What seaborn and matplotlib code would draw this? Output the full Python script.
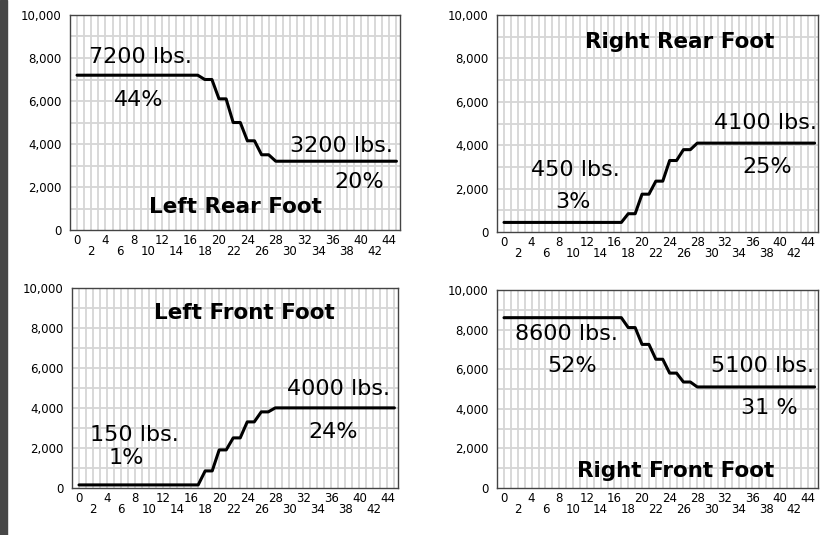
import numpy as np
import pandas as pd
import matplotlib
matplotlib.use("Agg")
import matplotlib.pyplot as plt
import seaborn as sns

# hours at which the load changes (straight segments between them)
hours = [0, 17, 18, 19, 20, 21, 22, 23, 24, 25, 26, 27, 28, 45]

left_rear = [7200, 7200, 7000, 7000, 6100, 6100, 5000, 5000, 4150, 4150, 3500, 3500, 3200, 3200]
right_rear = [450, 450, 850, 850, 1750, 1750, 2350, 2350, 3300, 3300, 3800, 3800, 4100, 4100]
left_front = [150, 150, 850, 850, 1900, 1900, 2500, 2500, 3300, 3300, 3800, 3800, 4000, 4000]
right_front = [8600, 8600, 8100, 8100, 7250, 7250, 6500, 6500, 5800, 5800, 5350, 5350, 5100, 5100]

y_ticks = [0, 2000, 4000, 6000, 8000, 10000]
x_top_row = [0, 4, 8, 12, 16, 20, 24, 28, 32, 36, 40, 44]
x_bottom_row = [2, 6, 10, 14, 18, 22, 26, 30, 34, 38, 42]

# (text, x, y, bold)
notes = {
    "left_rear": [("7200 lbs.", 8.9, 8050, False), ("44%", 8.7, 6050, False),
                  ("3200 lbs.", 37.3, 3930, False), ("20%", 39.7, 2220, False),
                  ("Left Rear Foot", 22.3, 1080, True)],
    "right_rear": [("Right Rear Foot", 25.5, 8770, True), ("4100 lbs.", 37.9, 5010, False),
                   ("25%", 38.1, 3010, False), ("450 lbs.", 10.3, 2860, False),
                   ("3%", 10.0, 1400, False)],
    "left_front": [("Left Front Foot", 23.6, 8720, True), ("4000 lbs.", 37.0, 4940, False),
                   ("24%", 36.3, 2800, False), ("150 lbs.", 7.9, 2630, False),
                   ("1%", 6.8, 1480, False)],
    "right_front": [("8600 lbs.", 9.0, 7780, False), ("52%", 9.9, 6140, False),
                    ("5100 lbs.", 37.5, 6140, False), ("31 %", 38.5, 4040, False),
                    ("Right Front Foot", 24.8, 880, True)],
}

sns.set_style("white")
plt.rcParams["font.family"] = ["DejaVu Sans"]

fig = plt.figure(figsize=(8.23, 5.35), dpi=100)
fig.patches.append(plt.Rectangle((0, 0), 7 / 823, 1, transform=fig.transFigure,
                                 color="#474747", zorder=0))

panels = [
    ("left_rear", left_rear, [0.085, 0.570, 0.401, 0.402]),
    ("right_rear", right_rear, [0.604, 0.566, 0.390, 0.406]),
    ("left_front", left_front, [0.0875, 0.088, 0.396, 0.374]),
    ("right_front", right_front, [0.604, 0.088, 0.390, 0.370]),
]

for key, values, pos in panels:
    ax = fig.add_axes(pos)
    df = pd.DataFrame({"hour": hours, "lbs": values})
    # light grid, one line per hour and per 1000 lbs
    for gx in range(46):
        ax.axvline(gx, color="#d6d6d6", lw=1.3, zorder=0)
    for gy in range(1000, 10000, 1000):
        ax.axhline(gy, color="#d6d6d6", lw=1.3, zorder=0)
    sns.lineplot(data=df, x="hour", y="lbs", ax=ax, color="black", lw=2.2, zorder=3)
    ax.set_xlim(-1, 45.5)
    ax.set_ylim(0, 10000)
    ax.set_xlabel("")
    ax.set_ylabel("")
    ax.set_yticks(y_ticks)
    ax.set_yticklabels([f"{v:,}" for v in y_ticks])
    ax.set_xticks(x_top_row)
    ax.set_xticklabels([str(v) for v in x_top_row])
    ax.set_xticks(x_bottom_row, minor=True)
    ax.set_xticklabels([str(v) for v in x_bottom_row], minor=True)
    ax.tick_params(axis="both", which="both", length=0, labelsize=8.5, colors="black")
    ax.tick_params(axis="y", pad=6)
    ax.tick_params(axis="x", which="major", pad=3)
    ax.tick_params(axis="x", which="minor", pad=10.5)
    for s in ax.spines.values():
        s.set_color("#444444")
        s.set_linewidth(1.0)
    for text, tx, ty, bold in notes[key]:
        ax.text(tx, ty, text, ha="center", va="center",
                fontsize=15.5 if bold else 16,
                fontweight="bold" if bold else "normal", color="black", zorder=4)

fig.savefig("out.png", dpi=100)
